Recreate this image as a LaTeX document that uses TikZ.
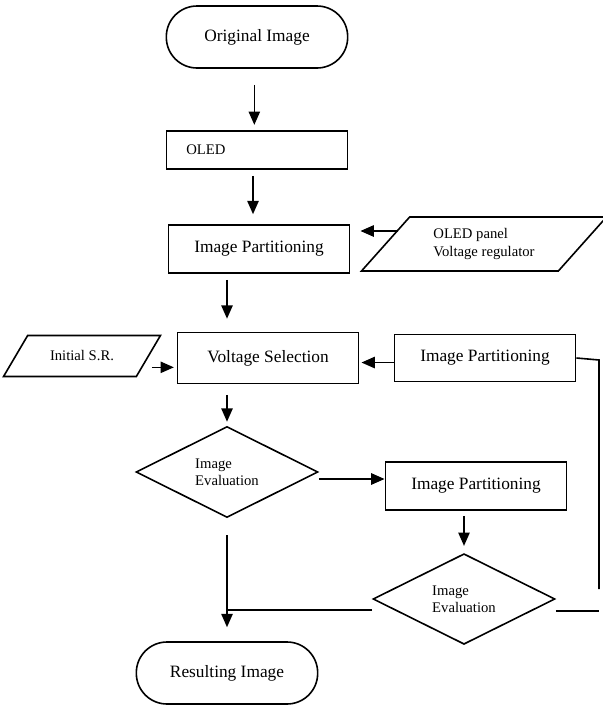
\documentclass[tikz,border=0pt]{standalone}
\usepackage{fontspec}
\setmainfont{Liberation Serif}
\usetikzlibrary{shapes.geometric}
\usetikzlibrary{arrows.meta}

\begin{document}
\begin{tikzpicture}[x=0.75pt, y=-0.75pt, line width=1.2pt,
	box/.style={rectangle, draw=black, minimum width=136pt, minimum height=36pt, font=\fontsize{13}{15}\selectfont},
	terminal/.style={rectangle, rounded corners=23pt, draw=black, minimum width=136pt, minimum height=46.5pt, font=\fontsize{13}{15}\selectfont},
	decision/.style={diamond, draw=black, minimum width=136.5pt, minimum height=68.25pt, inner sep=0pt, align=left, font=\fontsize{11}{13}\selectfont},
	io/.style={trapezium, trapezium left angle=48, trapezium right angle=132, trapezium stretches=true, draw=black, align=left, font=\fontsize{11}{13}\selectfont},
	arr/.style={-{Triangle[length=10pt,width=8.5pt]}}]
	\useasboundingbox (0,0) rectangle (603,707);

	\node[terminal] (orig) at (257,37) {Original Image};
	\node[box, minimum height=28.5pt, text width=106pt, inner xsep=15pt, align=left, font=\fontsize{11}{13}\selectfont] (oled) at (257,150) {OLED};
	\node[box] (part1) at (259,249) {Image Partitioning};
	\node[io, minimum width=183.75pt, minimum height=40.5pt] (panel) at (484,244) {OLED panel\\Voltage regulator};
	\node[box, minimum height=38.25pt] (vsel) at (268,358) {Voltage Selection};
	\node[io, trapezium left angle=50, trapezium right angle=130, minimum width=118.5pt, minimum height=30.75pt] (init) at (82,356) {Initial S.R.};
	\node[box, minimum height=35.25pt] (part2) at (485,358) {Image Partitioning};
	\node[decision] (eval1) at (227,472) {Image\\Evaluation};
	\node[box] (part3) at (476,486) {Image Partitioning};
	\node[decision, minimum height=67.5pt] (eval2) at (464,599) {Image\\Evaluation};
	\node[terminal] (result) at (227,673) {Resulting Image};

	\draw[arr, shorten <=12pt, shorten >=4pt] ([xshift=-2pt]orig.south) -- ([xshift=-2pt]oled.north);
	\draw[arr, shorten <=4.5pt, shorten >=7.5pt] ([xshift=-3pt]oled.south) -- ([xshift=-3pt]oled.south |- part1.north);
	\draw[arr, shorten <=4.5pt, shorten >=9.75pt] (part1.south -| eval1.north) -- (vsel.north -| eval1.north);
	\coordinate (outPanel) at (398,231);
	\draw[arr, shorten >=7.5pt] (outPanel) -- (outPanel -| part1.east);
	\coordinate (inVsel) at ([yshift=-7pt]vsel.west);
	\draw[arr, shorten <=2pt, shorten >=2pt] (inVsel -| init.right side) -- (inVsel);
	\coordinate (fromPart2) at ([yshift=-3.4pt]part2.west);
	\draw[arr, shorten >=1.5pt] (fromPart2) -- (fromPart2 -| vsel.east);
	\draw[arr, shorten <=8pt, shorten >=3pt] (vsel.south -| eval1.north) -- (eval1.north);
	\coordinate (inPart3) at ([yshift=5.25pt]part3.west);
	\draw[arr] (inPart3 -| eval1.east) -- (inPart3);
	\draw[arr, shorten <=3.75pt, shorten >=5.25pt] (part3.south -| eval2.north) -- (eval2.north);
	\draw[arr, shorten <=12.75pt, shorten >=10.5pt] (eval1.south) -- (result.north);
	\coordinate (lowL) at ([yshift=-8.25pt]eval2.west);
	\draw (lowL) -- (lowL -| eval1.south);
	\coordinate (loopTop) at (599,360);
	\coordinate (loopBot) at (599,589);
	\draw (part2.east) -- (loopTop) -- (loopBot);
	\coordinate (lowR) at ([yshift=-9pt]eval2.east);
	\draw (lowR) -- (lowR -| loopTop);
\end{tikzpicture}
\end{document}
